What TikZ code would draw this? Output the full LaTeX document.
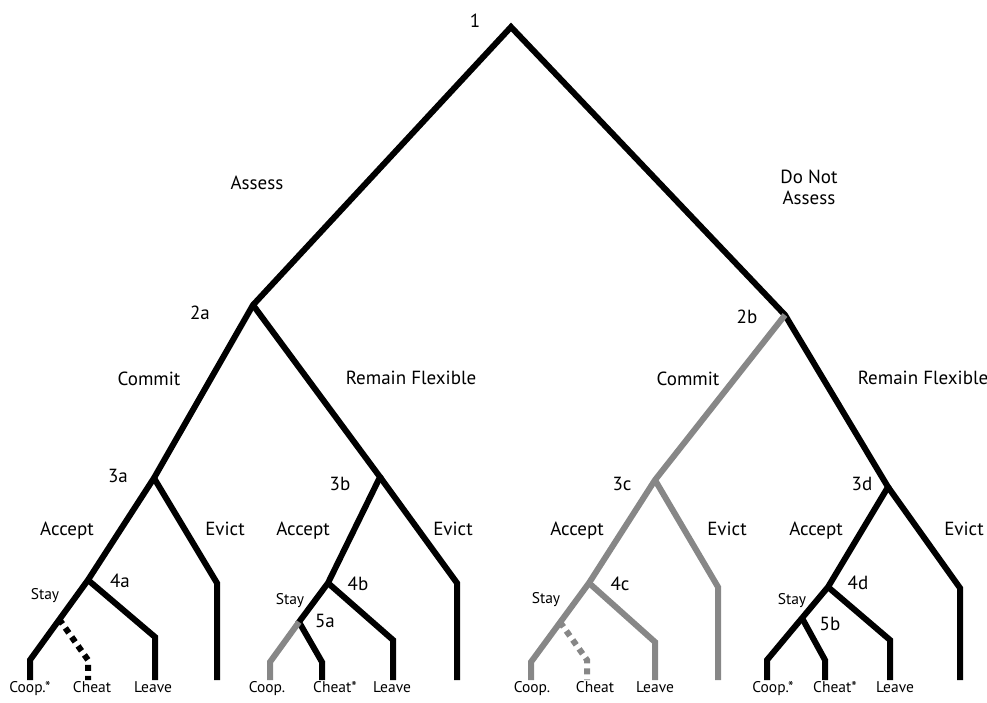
\documentclass[tikz,border=0pt]{standalone}
\usepackage{fontspec}
\setmainfont{PT Sans}
\usepackage{xcolor}
\definecolor{branchgray}{RGB}{135,135,135}

\begin{document}
\begin{tikzpicture}[x=1pt, y=-1pt,
  branch/.style={line width=6pt, line join=miter, draw=black},
  greybranch/.style={branch, draw=branchgray},
  dotbranch/.style={branch, dash pattern=on 6pt off 5pt},
  stage/.style={font=\fontsize{19}{21}\selectfont, anchor=base, inner sep=0pt},
  choice/.style={font=\fontsize{19}{21}\selectfont, anchor=base, inner sep=0pt, align=center},
  leaf/.style={font=\fontsize{15.5}{17}\selectfont, anchor=base, inner sep=0pt}
]
  \useasboundingbox (0,0) rectangle (987,702);

  % decision points
  \coordinate (n1)  at (511,27);
  \coordinate (n2a) at (253,305);
  \coordinate (n2b) at (785,315);
  \coordinate (n3a) at (154,478);
  \coordinate (n3b) at (380,477);
  \coordinate (n3c) at (655,480);
  \coordinate (n3d) at (888,487);
  \coordinate (n4a) at (88,580);
  \coordinate (n4b) at (328,583);
  \coordinate (n4c) at (589,583);
  \coordinate (n4d) at (828,587);
  \coordinate (s4a) at (59,619);
  \coordinate (n5a) at (299,622);
  \coordinate (s4c) at (560,622);
  \coordinate (n5b) at (802,618);
  \coordinate (floor) at (0,680);

  % bends of the outcome branches
  \coordinate (coopA)  at (30,660);
  \coordinate (cheatA) at (88,660);
  \coordinate (leaveA) at (155,637);
  \coordinate (evictA) at (217,583);
  \coordinate (coopB)  at (270,662);
  \coordinate (cheatB) at (322,662);
  \coordinate (leaveB) at (393,640);
  \coordinate (evictB) at (457,583);
  \coordinate (coopC)  at (531,662);
  \coordinate (cheatC) at (587,660);
  \coordinate (leaveC) at (655,642);
  \coordinate (evictC) at (718,587);
  \coordinate (coopD)  at (767,660);
  \coordinate (cheatD) at (825,660);
  \coordinate (leaveD) at (890,640);
  \coordinate (evictD) at (960,588);

  % dotted (unused) cheat branches first, so the solid lines cover their start
  \draw[dotbranch] (s4a) -- (cheatA) -- (cheatA |- floor);
  \draw[dotbranch, draw=branchgray] (s4c) -- (cheatC) -- (cheatC |- floor);

  % trunk
  \draw[branch] (coopA |- floor) -- (coopA) -- (n4a) -- (n3a) -- (n2a) -- (n1)
    -- (n2b) -- (n3d) -- (n4d) -- (coopD) -- (coopD |- floor);
  \draw[branch] (n2a) -- (n3b) -- (n4b) -- (n5a) -- (cheatB) -- (cheatB |- floor);
  \draw[greybranch] (n2b) -- (n3c) -- (n4c) -- (coopC) -- (coopC |- floor);

  % subtree 3a
  \draw[branch] (n4a) -- (leaveA) -- (leaveA |- floor);
  \draw[branch] (n3a) -- (evictA) -- (evictA |- floor);
  % subtree 3b
  \draw[greybranch] (n5a) -- (coopB) -- (coopB |- floor);
  \draw[branch] (n4b) -- (leaveB) -- (leaveB |- floor);
  \draw[branch] (n3b) -- (evictB) -- (evictB |- floor);
  % subtree 3c
  \draw[greybranch] (n4c) -- (leaveC) -- (leaveC |- floor);
  \draw[greybranch] (n3c) -- (evictC) -- (evictC |- floor);
  % subtree 3d
  \draw[branch] (n5b) -- (cheatD) -- (cheatD |- floor);
  \draw[branch] (n4d) -- (leaveD) -- (leaveD |- floor);
  \draw[branch] (n3d) -- (evictD) -- (evictD |- floor);

  % stage numbers
  \node[stage] (l1)  at (475,27)  {1};
  \node[stage] (l2a) at (200,319) {2a};
  \node[stage] (l2b) at (747,323) {2b};
  \node[stage] (l3a) at (118,482) {3a};
  \node[stage] (l3b) at (340,490) {3b};
  \node[stage] (l3c) at (622,490) {3c};
  \node[stage] (l3d) at (862,490) {3d};
  \node[stage] (l4a) at (120,587) {4a};
  \node[stage] (l4b) at (358,590) {4b};
  \node[stage] (l4c) at (620,590) {4c};
  \node[stage] (l4d) at (858,589) {4d};
  \node[stage] (l5a) at (325,627) {5a};
  \node[stage] (l5b) at (830,630) {5b};

  % choices
  \node[choice] (assess)   at (257,189) {Assess};
  \node[choice] (noassess) at (809,204) {Do Not\\Assess};
  \node[choice] (commitL)  at (149,385) {Commit};
  \node[choice] (flexL)    at (411,384) {Remain Flexible};
  \node[choice] (commitR)  at (688,385) {Commit};
  \node[choice] (flexR)    at (923,384) {Remain Flexible};
  \node[choice] (acceptA)  at (67,535)  {Accept};
  \node[choice] (evictAt)  at (225,535) {Evict};
  \node[choice] (acceptB)  at (303,535) {Accept};
  \node[choice] (evictBt)  at (453,535) {Evict};
  \node[choice] (acceptC)  at (577,535) {Accept};
  \node[choice] (evictCt)  at (727,535) {Evict};
  \node[choice] (acceptD)  at (816,535) {Accept};
  \node[choice] (evictDt)  at (964,535) {Evict};

  % stay labels
  \node[leaf] (stayA) at (45,599)  {Stay};
  \node[leaf] (stayB) at (290,604) {Stay};
  \node[leaf] (stayC) at (546,603) {Stay};
  \node[leaf] (stayD) at (792,604) {Stay};

  % outcomes
  \node[leaf] (oA1) at (30,692)  {Coop.*};
  \node[leaf] (oA2) at (92,692)  {Cheat};
  \node[leaf] (oA3) at (153,692) {Leave};
  \node[leaf] (oB1) at (267,692) {Coop.};
  \node[leaf] (oB2) at (335,692) {Cheat*};
  \node[leaf] (oB3) at (392,692) {Leave};
  \node[leaf] (oC1) at (532,692) {Coop.};
  \node[leaf] (oC2) at (595,692) {Cheat};
  \node[leaf] (oC3) at (655,692) {Leave};
  \node[leaf] (oD1) at (773,692) {Coop.*};
  \node[leaf] (oD2) at (835,692) {Cheat*};
  \node[leaf] (oD3) at (895,692) {Leave};
\end{tikzpicture}
\end{document}
